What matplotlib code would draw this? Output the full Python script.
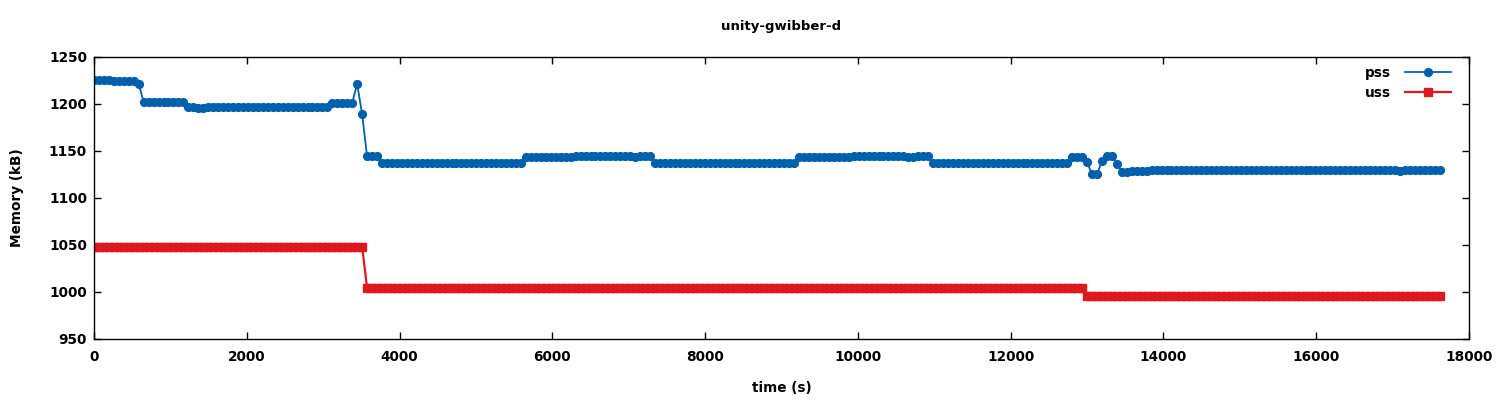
import numpy as np
import matplotlib
matplotlib.use("Agg")
import matplotlib.pyplot as plt

# ---- data ----
title = "unity-gwibber-d"
sample_interval = 65  # seconds between samples

# pss run-length: (value kB, number of consecutive samples)
pss_values = [1225, 1224, 1221, 1202, 1197, 1196, 1197, 1201, 1221, 1189, 1144,
              1137, 1143, 1144, 1143, 1144, 1137, 1143, 1144, 1143, 1144, 1137,
              1143, 1138, 1125, 1139, 1144, 1136, 1128, 1129, 1130, 1129, 1130]
pss_counts = [4, 5, 1, 9, 2, 2, 25, 5, 1, 1, 3,
              29, 10, 12, 1, 3, 29, 11, 11, 2, 3, 28,
              3, 1, 2, 1, 2, 1, 2, 4, 50, 1, 8]

# uss run-length
uss_values = [1048, 1004, 996]
uss_counts = [55, 145, 72]

xticks = [0, 2000, 4000, 6000, 8000, 10000, 12000, 14000, 16000, 18000]
yticks = [950, 1000, 1050, 1100, 1150, 1200, 1250]

pss = np.repeat(pss_values, pss_counts)
uss = np.repeat(uss_values, uss_counts)
t_pss = np.arange(len(pss)) * sample_interval
t_uss = np.arange(len(uss)) * sample_interval

plt.rcParams['font.family'] = ['DejaVu Sans']
fig = plt.figure(figsize=(15, 4), dpi=100)
ax = fig.add_axes([94/1500, 1-339/400, (1469-94)/1500, (339-56.7)/400])

ax.plot(t_pss, pss, color='#0060ad', lw=1.3, marker='o', ms=5.6,
        mec='#0060ad', mfc='#0060ad', label='pss')
ax.plot(t_uss, uss, color='#dd181f', lw=1.6, marker='s', ms=5.6,
        mec='#dd181f', mfc='#dd181f', label='uss')

ax.set_xlim(0, 18000)
ax.set_ylim(950, 1250)
ax.set_xticks(xticks)
ax.set_yticks(yticks)
ax.tick_params(direction='in', top=True, right=True, length=5, width=1,
               labelsize=9.8)
ax.tick_params(axis='y', pad=5)
ax.tick_params(axis='x', pad=8)
for lab in ax.get_xticklabels() + ax.get_yticklabels():
    lab.set_fontweight('bold')
for s in ax.spines.values():
    s.set_linewidth(1)

ax.set_xlabel('time (s)', fontsize=9.8, fontweight='bold', labelpad=12)
ax.set_ylabel('Memory (kB)', fontsize=9.8, fontweight='bold', labelpad=18)
ax.set_title(title, fontsize=9.5, fontweight='bold', pad=19)

leg = ax.legend(loc='upper right', frameon=False, markerfirst=False,
                handlelength=3.4, handletextpad=1.0, fontsize=9.8,
                borderaxespad=0.3, labelspacing=0.4,
                bbox_to_anchor=(0.994, 1.0))
for txt in leg.get_texts():
    txt.set_fontweight('bold')

fig.savefig('out.png', dpi=100)
